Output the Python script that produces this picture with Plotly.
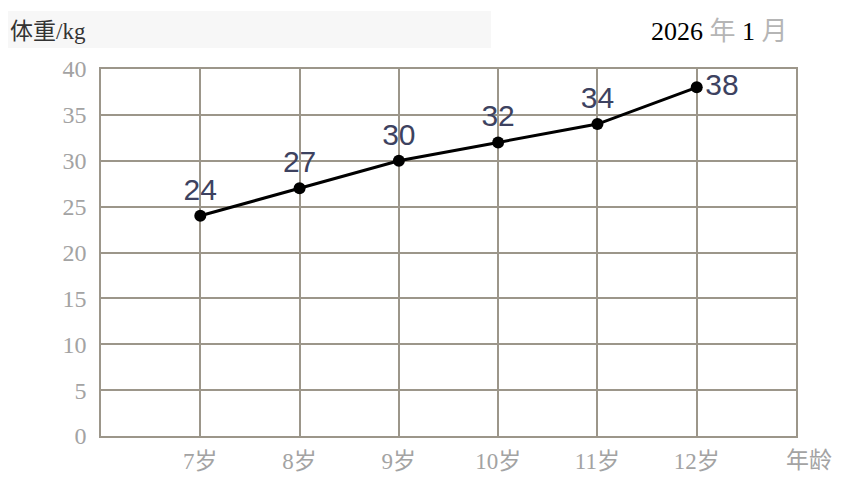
import plotly.graph_objects as go

# 年龄与体重
ages = [1, 2, 3, 4, 5, 6]
age_labels = ["7岁", "8岁", "9岁", "10岁", "11岁", "12岁"]
weights = [24, 27, 30, 32, 34, 38]
weight_text = ["24", "27", "30", "32", "34", "38"]
text_pos = ["top center", "top center", "top center", "top center", "top center", "middle right"]

grid_color = "#9c968a"
ytick_font = dict(family="Liberation Serif, Noto Sans CJK SC", size=24, color="#a3a3a3")
xtick_font = dict(family="Liberation Serif, Noto Sans CJK SC", size=23, color="#a3a3a3")

trace = go.Scatter(
    x=ages, y=weights,
    mode="lines+markers+text",
    line=dict(color="black", width=3),
    marker=dict(color="black", size=12),
    text=weight_text,
    textposition=text_pos,
    textfont=dict(family="Liberation Sans, Arial", size=30, color="#3d4260"),
    cliponaxis=False,
    showlegend=False,
)

fig = go.Figure(data=[trace])
fig.update_layout(
    width=852, height=481, autosize=False,
    margin=dict(l=93, r=64, t=61, b=53),
    paper_bgcolor="white", plot_bgcolor="white",
    xaxis=dict(
        range=[0, 7],
        tickmode="array",
        tickvals=list(range(0, 8)),
        ticktext=[""] + age_labels + [""],
        showgrid=True, gridcolor=grid_color, gridwidth=1.5,
        showline=True, mirror=True, linecolor=grid_color, linewidth=1.5,
        zeroline=False, ticks="", tickfont=xtick_font,
        ticklabelstandoff=4,
        fixedrange=True,
    ),
    yaxis=dict(
        range=[0, 40],
        dtick=5,
        showgrid=True, gridcolor=grid_color, gridwidth=1.5,
        showline=True, mirror=True, linecolor=grid_color, linewidth=1.5,
        zeroline=False, ticks="", tickfont=ytick_font,
        ticklabelstandoff=8,
        fixedrange=True,
    ),
    shapes=[dict(type="rect", xref="paper", yref="paper", x0=-0.144, x1=0.561,
                 y0=1.057, y1=1.158, fillcolor="#f7f7f7", line=dict(width=0), layer="below")],
    annotations=[
        dict(text="体重/kg", xref="paper", yref="paper", x=-0.134, y=1.103,
             xanchor="left", yanchor="middle", showarrow=False,
             font=dict(family="Liberation Serif, Noto Sans CJK SC", size=23, color="#333333")),
        dict(text="2026 <span style='color:#b5b5b5'>年</span> 1 <span style='color:#b5b5b5'>月</span>",
             xref="paper", yref="paper", x=0.788, y=1.103,
             xanchor="left", yanchor="middle", showarrow=False,
             font=dict(family="Liberation Serif, Noto Sans CJK SC", size=26, color="black")),
        dict(text="年龄", xref="paper", yref="paper", x=0.983, y=-0.068,
             xanchor="left", yanchor="middle", showarrow=False,
             font=xtick_font),
    ],
)

fig.write_html("out.html")
